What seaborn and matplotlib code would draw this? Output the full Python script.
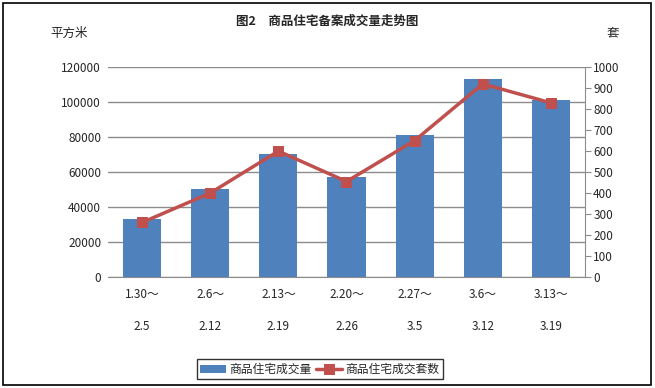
import numpy as np
import pandas as pd
import seaborn as sns
from matplotlib import pyplot as plt

# weekly periods
periods = ["1.30～\n\n2.5", "2.6～\n\n2.12", "2.13～\n\n2.19", "2.20～\n\n2.26",
           "2.27～\n\n3.5", "3.6～\n\n3.12", "3.13～\n\n3.19"]
area = [33000, 50500, 70500, 57000, 81000, 113000, 101000]   # 平方米
units = [260, 400, 600, 455, 650, 920, 830]                   # 套

sns.set_style("white")
plt.rcParams["font.family"] = ["Noto Sans CJK SC", "DejaVu Sans"]

BLUE = "#4F81BD"
RED = "#C0504D"

df = pd.DataFrame({"period": periods, "area": area, "units": units, "pos": range(len(periods))})

fig = plt.figure(figsize=(6.55, 3.88), dpi=100)
ax = fig.add_axes([0.165, 0.286, 0.728, 0.541])

sns.barplot(data=df, x="period", y="area", color=BLUE, saturation=1, width=0.56, ax=ax,
            label="商品住宅成交量", edgecolor="none", linewidth=0)
if ax.get_legend() is not None:
    ax.get_legend().remove()
ax.set_ylim(0, 120000)
ax.set_yticks(np.arange(0, 120001, 20000))
ax.yaxis.grid(True, color="#8c8c8c", linewidth=1)
ax.set_axisbelow(True)
ax.set_xlabel("")
ax.set_ylabel("")
for s in ["left", "top", "right"]:
    ax.spines[s].set_visible(False)
ax.spines["bottom"].set_color("#8c8c8c")
ax.tick_params(axis="both", length=0, labelsize=8.5, pad=5)
ax.tick_params(axis="x", pad=8)
for lab in ax.get_xticklabels():
    lab.set_linespacing(1.3)

ax2 = ax.twinx()
sns.lineplot(data=df, x="pos", y="units", color=RED, linewidth=2.5, marker="s",
             markersize=7, markeredgecolor=RED, ax=ax2, label="商品住宅成交套数", legend=False)
ax2.set_ylim(0, 1000)
ax2.set_yticks(np.arange(0, 1001, 100))
ax2.set_ylabel("")
ax2.set_xlabel("")
ax.set_xlim(-0.5, len(periods) - 0.5)
for s in ["left", "top", "bottom"]:
    ax2.spines[s].set_visible(False)
ax2.spines["right"].set_color("#8c8c8c")
ax2.tick_params(axis="y", length=4, color="#8c8c8c", labelsize=8.5, pad=2)

fig.text(0.5, 0.945, "图2　商品住宅备案成交量走势图", ha="center", va="center",
         fontsize=9, fontweight="bold")
fig.text(0.105, 0.915, "平方米", ha="center", va="center", fontsize=9)
fig.text(0.935, 0.915, "套", ha="center", va="center", fontsize=9)

h1, l1 = ax.get_legend_handles_labels()
h2, l2 = ax2.get_legend_handles_labels()
leg = fig.legend(h1 + h2, l1 + l2, loc="center", bbox_to_anchor=(0.488, 0.048), ncol=2,
                 fontsize=8.5, frameon=True, fancybox=False, edgecolor="black",
                 handlelength=2.2, handletextpad=0.3, columnspacing=0.3, borderpad=0.3)
leg.get_frame().set_linewidth(1)

fig.add_artist(plt.Rectangle((0.004, 0.008), 0.99, 0.985, transform=fig.transFigure,
                             fill=False, edgecolor="black", linewidth=1.2))

fig.savefig("out.png", dpi=100)
